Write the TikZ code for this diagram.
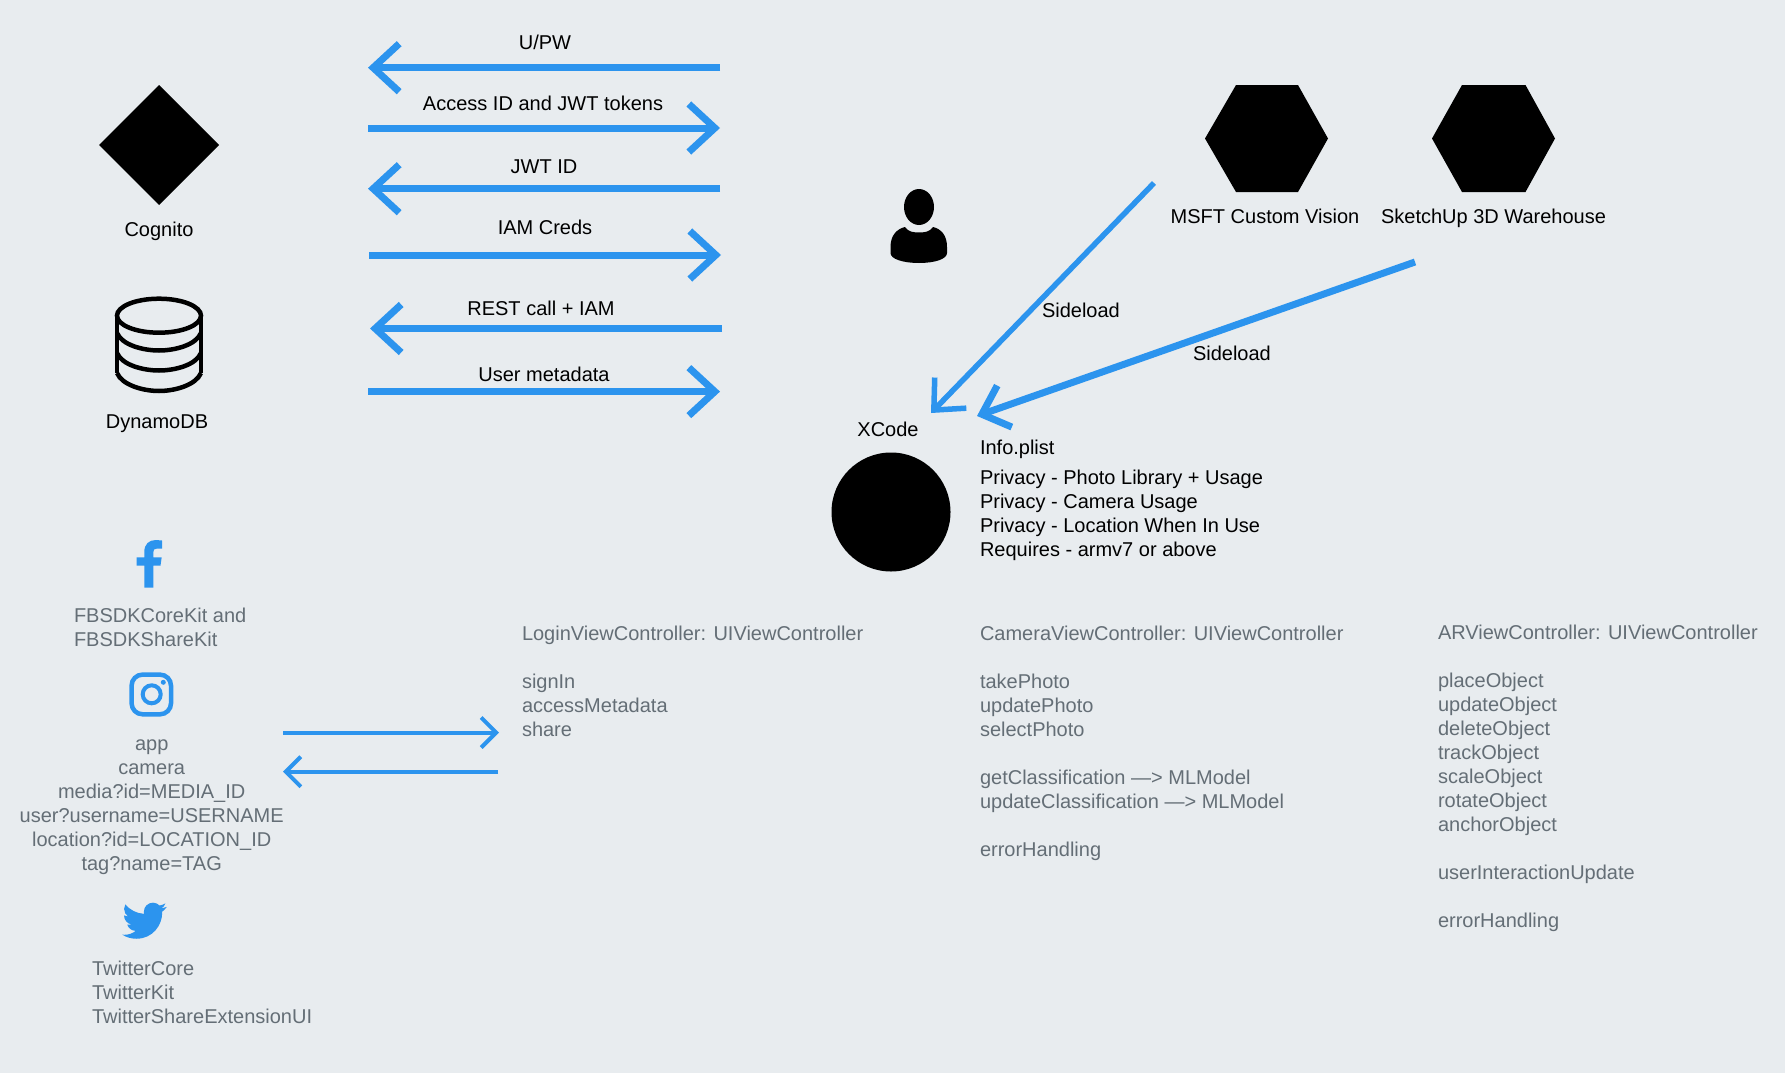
\documentclass[tikz,border=0pt]{standalone}
\usepackage{fontspec}
\setmainfont{Liberation Sans}
\usetikzlibrary{arrows.meta}
\definecolor{bgc}{HTML}{E8ECEF}
\definecolor{arrowblue}{HTML}{2C94EE}
\definecolor{graytext}{HTML}{646E76}
\tikzset{
  lab/.style={inner sep=0pt,outer sep=0pt,font=\fontsize{20}{24}\selectfont,execute at begin node={\rule{0pt}{16pt}}},
  lableft/.style={lab,anchor=north west,align=left},
  labmid/.style={lab,anchor=north,align=center},
  gray lab/.style={text=graytext},
  big arrow/.style={arrowblue,line width=7pt,-{Straight Barb[length=26pt,width=48pt]}},
  small arrow/.style={arrowblue,line width=4pt,-{Straight Barb[length=15pt,width=30pt]}},
  side arrow/.style={arrowblue,-{Straight Barb[length=24pt,width=44pt]}},
  solid shape/.style={fill=black,draw=none},
  icon/.style={fill=arrowblue,draw=none}
}
\begin{document}
\begin{tikzpicture}[x=1pt,y=-1pt]
\useasboundingbox (0,0) rectangle (1785,1073);
\fill[bgc] (0,0) rectangle (1785,1073);

% long horizontal arrows
\coordinate (a1r) at (720,67.7);  \coordinate (a1l) at (368,67.7);
\coordinate (a2l) at (368,128);   \coordinate (a2r) at (720,128);
\coordinate (a3r) at (720,188.7); \coordinate (a3l) at (368,188.7);
\coordinate (a4l) at (369,255);   \coordinate (a4r) at (721,255);
\coordinate (a5r) at (722,328.5); \coordinate (a5l) at (370,328.5);
\coordinate (a6l) at (368,391.6); \coordinate (a6r) at (720,391.6);
\draw[big arrow] (a1r) -- (a1l);
\draw[big arrow] (a2l) -- (a2r);
\draw[big arrow] (a3r) -- (a3l);
\draw[big arrow] (a4l) -- (a4r);
\draw[big arrow] (a5r) -- (a5l);
\draw[big arrow] (a6l) -- (a6r);

\node[labmid] (upw) at (545,33) {U/PW};
\node[labmid] (access) at (543,94) {Access ID and JWT tokens};
\node[labmid] (jwt) at (544,157.7) {JWT ID};
\node[labmid] (iam) at (545,218) {IAM Creds};
\node[labmid] (rest) at (541,299.5) {REST call + IAM};
\node[labmid] (umeta) at (544,365.5) {User metadata};

% Cognito and DynamoDB
\fill[solid shape] (159,85) -- (219,145) -- (159,205) -- (99,145) -- cycle;
\node[labmid] (cognito) at (159,220.7) {Cognito};
\begin{scope}[draw=black,line width=4.5pt]
  \draw (159,315.7) ellipse [x radius=42,y radius=17];
  \draw (117,315.7) -- (117,373);
  \draw (201,315.7) -- (201,373);
  \draw (117,333) .. controls (122,345) and (143,350.5) .. (159,350.5) .. controls (175,350.5) and (196,345) .. (201,333);
  \draw (117,353) .. controls (122,365) and (143,370.5) .. (159,370.5) .. controls (175,370.5) and (196,365) .. (201,353);
  \draw (117,373) .. controls (122,385) and (143,391) .. (159,391) .. controls (175,391) and (196,385) .. (201,373);
\end{scope}
\node[labmid] (dynamo) at (157,412) {DynamoDB};

% person
\fill[solid shape] (919,207) ellipse [x radius=15,y radius=18];
\fill[solid shape] (905,227) .. controls (908,232) and (914,232.5) .. (919,232.5) .. controls (924,232.5) and (930,232) .. (933,227) .. controls (941,229) and (947,235) .. (947,247) -- (947,253) .. controls (947,259) and (935,263) .. (919,263) .. controls (903,263) and (890.5,259) .. (890.5,253) -- (890.5,247) .. controls (890.5,235) and (897,229) .. (905,227) -- cycle;

% hexagons
\fill[solid shape] (1205,138.5) -- (1236,85) -- (1298,85) -- (1328,138.5) -- (1298,192) -- (1236,192) -- cycle;
\fill[solid shape] (1432,138.5) -- (1462,85) -- (1525.5,85) -- (1555,138.5) -- (1525.5,192) -- (1462,192) -- cycle;
\node[labmid] (msft) at (1265,207.7) {MSFT Custom Vision};
\node[labmid] (sketch) at (1493.5,207.7) {SketchUp 3D Warehouse};

% sideload arrows
\coordinate (s1a) at (1154,183); \coordinate (s1b) at (931,413);
\coordinate (s2a) at (1415,262); \coordinate (s2b) at (977,416);
\draw[side arrow,line width=5.5pt] (s1a) -- (s1b);
\draw[side arrow,line width=7pt] (s2a) -- (s2b);
\node[lableft] (side1) at (1042,301) {Sideload};
\node[lableft] (side2) at (1193,344) {Sideload};

% XCode
\node[lableft] (xcode) at (857.4,420.7) {XCode};
\fill[solid shape] (891,512) circle [radius=59.5];
\node[lableft] (info) at (980,438) {Info.plist};
\node[lableft] (privacy) at (980,470) {Privacy - Photo Library + Usage\\Privacy - Camera Usage\\Privacy - Location When In Use\\Requires - armv7 or above};

% facebook
\fill[icon] (144.3,587.7) -- (144.3,565.7) -- (136.7,565.7) -- (136.7,557.3) -- (144.3,557.3) -- (144.3,552) .. controls (144.3,544) and (149,540) .. (156,540) -- (162,540.5) -- (162,548.5) -- (157,548.5) .. controls (154,548.5) and (153.3,550) .. (153.3,552.5) -- (153.3,557.3) -- (161.7,557.3) -- (160.5,565.7) -- (153.3,565.7) -- (153.3,587.7) -- cycle;
\node[lableft,gray lab] (fb) at (74,607.7) {FBSDKCoreKit and\\FBSDKShareKit};

% instagram
\draw[arrowblue,line width=4.5pt,rounded corners=11pt] (131.6,674.6) rectangle (171,714.3);
\draw[arrowblue,line width=4pt] (151.7,694.3) circle [radius=9];
\fill[icon] (163.3,682.3) circle [radius=2.5];
\node[labmid,gray lab] (insta) at (151.7,740) {app\\camera\\media?id=MEDIA\_ID\\user?username=USERNAME\\location?id=LOCATION\_ID\\tag?name=TAG};

% twitter
\begin{scope}[shift={(122.3,898.5)},scale=1.85]
\fill[icon] (23.954,4.569) .. controls (23.069,4.958) and (22.124,5.223) .. (21.129,5.344)
 .. controls (22.143,4.733) and (22.923,3.770) .. (23.292,2.621)
 .. controls (22.341,3.176) and (21.287,3.580) .. (20.165,3.805)
 .. controls (19.269,2.846) and (17.992,2.246) .. (16.574,2.246)
 .. controls (13.857,2.246) and (11.654,4.449) .. (11.654,7.163)
 .. controls (11.654,7.553) and (11.699,7.928) .. (11.781,8.287)
 .. controls (7.691,8.094) and (4.066,6.13) .. (1.64,3.161)
 .. controls (1.213,3.883) and (0.974,4.722) .. (0.974,5.636)
 .. controls (0.974,7.346) and (1.844,8.849) .. (3.162,9.732)
 .. controls (2.355,9.706) and (1.596,9.484) .. (0.934,9.116)
 -- (0.934,9.177)
 .. controls (0.934,11.562) and (2.627,13.551) .. (4.880,14.004)
 .. controls (4.467,14.115) and (4.031,14.175) .. (3.584,14.175)
 .. controls (3.270,14.175) and (2.969,14.145) .. (2.668,14.089)
 .. controls (3.299,16.042) and (5.113,17.466) .. (7.272,17.506)
 .. controls (5.592,18.825) and (3.463,19.611) .. (1.170,19.611)
 .. controls (0.780,19.611) and (0.391,19.588) .. (0,19.544)
 .. controls (2.189,20.938) and (4.768,21.753) .. (7.557,21.753)
 .. controls (16.611,21.753) and (21.556,14.257) .. (21.556,7.767)
 .. controls (21.556,7.558) and (21.556,7.347) .. (21.541,7.137)
 .. controls (22.502,6.448) and (23.341,5.577) .. (24.001,4.589) -- cycle;
\end{scope}
\node[lableft,gray lab] (tw) at (92,961) {TwitterCore\\TwitterKit\\TwitterShareExtensionUI};

% small arrows
\coordinate (b1l) at (283,732.5);  \coordinate (b1r) at (499,732.5);
\coordinate (b2r) at (498,771.7); \coordinate (b2l) at (283,771.7);
\draw[small arrow] (b1l) -- (b1r);
\draw[small arrow] (b2r) -- (b2l);

% controllers
\node[lableft,gray lab] (login) at (522,625.5) {LoginViewController: UIViewController\\[24pt]signIn\\accessMetadata\\share};
\node[lableft,gray lab] (camera) at (980,625.5) {CameraViewController: UIViewController\\[24pt]takePhoto\\updatePhoto\\selectPhoto\\[24pt]getClassification —> MLModel\\updateClassification —> MLModel\\[24pt]errorHandling};
\node[lableft,gray lab] (ar) at (1438,625) {ARViewController: UIViewController\\[24pt]placeObject\\updateObject\\deleteObject\\trackObject\\scaleObject\\rotateObject\\anchorObject\\[24pt]userInteractionUpdate\\[24pt]errorHandling};
\end{tikzpicture}
\end{document}
